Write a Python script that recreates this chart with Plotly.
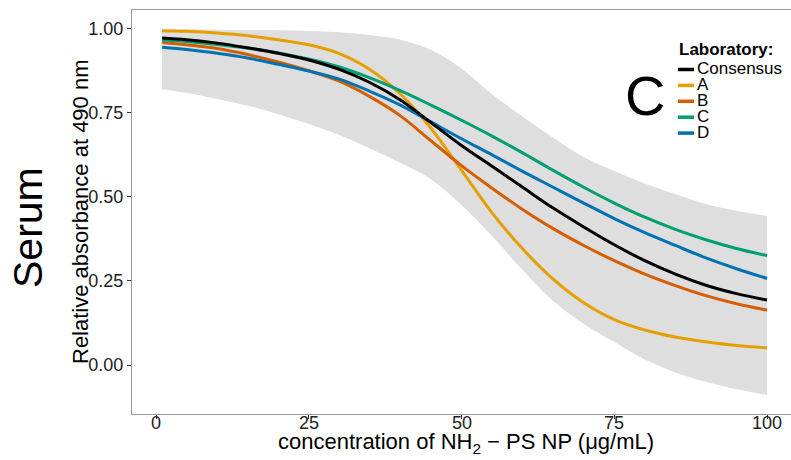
import plotly.graph_objects as go

# ---- data ----
conc = [1, 5, 10, 15, 20, 25, 30, 35, 40, 45, 50, 55, 60, 65, 70, 75, 80, 85, 90, 95, 100]
consensus = [0.971, 0.966, 0.956, 0.942, 0.926, 0.906, 0.878, 0.839, 0.787, 0.720, 0.652,
             0.590, 0.528, 0.466, 0.410, 0.357, 0.310, 0.270, 0.237, 0.212, 0.193]
lab_a = [0.993, 0.991, 0.986, 0.978, 0.966, 0.951, 0.925, 0.878, 0.805, 0.703, 0.578,
         0.452, 0.345, 0.255, 0.185, 0.135, 0.104, 0.083, 0.069, 0.058, 0.051]
lab_b = [0.958, 0.951, 0.940, 0.922, 0.900, 0.874, 0.843, 0.797, 0.740, 0.666, 0.592,
         0.525, 0.462, 0.405, 0.355, 0.310, 0.270, 0.236, 0.206, 0.182, 0.163]
lab_c = [0.965, 0.961, 0.952, 0.941, 0.927, 0.909, 0.885, 0.853, 0.815, 0.772, 0.727,
         0.680, 0.630, 0.578, 0.528, 0.481, 0.439, 0.403, 0.372, 0.346, 0.325]
lab_d = [0.944, 0.937, 0.926, 0.912, 0.893, 0.873, 0.849, 0.813, 0.772, 0.722, 0.672,
         0.624, 0.575, 0.528, 0.481, 0.435, 0.393, 0.355, 0.318, 0.286, 0.257]
band_upper = [0.997, 0.997, 0.996, 0.995, 0.994, 0.992, 0.988, 0.980, 0.966, 0.936, 0.880,
              0.804, 0.738, 0.675, 0.618, 0.576, 0.539, 0.507, 0.478, 0.458, 0.443]
band_lower = [0.819, 0.808, 0.790, 0.770, 0.745, 0.716, 0.683, 0.643, 0.600, 0.552, 0.475,
              0.383, 0.282, 0.190, 0.122, 0.068, 0.016, -0.022, -0.050, -0.072, -0.089]

x_ticks = [0, 25, 50, 75, 100]
x_tick_labels = ["0", "25", "50", "75", "100"]
y_ticks = [0.0, 0.25, 0.5, 0.75, 1.0]
y_tick_labels = ["0.00", "0.25", "0.50", "0.75", "1.00"]

series_names = ["A", "B", "C", "D"]
series_values = [lab_a, lab_b, lab_c, lab_d]
series_colors = ["#E69F00", "#D55E00", "#009E73", "#0072B2"]

FONT = "Liberation Sans, Arial, Helvetica, sans-serif"

fig = go.Figure()

# confidence band
fig.add_trace(go.Scatter(x=conc, y=band_lower, mode="lines", line=dict(width=0, shape="spline"),
                         hoverinfo="skip", showlegend=False))
fig.add_trace(go.Scatter(x=conc, y=band_upper, mode="lines", line=dict(width=0, shape="spline"),
                         fill="tonexty", fillcolor="#DEDEDE", hoverinfo="skip", showlegend=False))

for name, vals, col in zip(series_names, series_values, series_colors):
    fig.add_trace(go.Scatter(x=conc, y=vals, mode="lines", name=name,
                             line=dict(color=col, width=3, shape="spline"), showlegend=False))
fig.add_trace(go.Scatter(x=conc, y=consensus, mode="lines", name="Consensus",
                         line=dict(color="#000000", width=3, shape="spline"), showlegend=False))

# plot area geometry (pixels)
L, R, T, B = 132, 791, 10, 414
W, H = R - L, B - T

def px_x(px):
    return (px - L) / W

def px_y(py):
    return (B - py) / H

annotations = []
shapes = []

# x tick labels (placed just under the ticks)
for tv, tt in zip(x_ticks, x_tick_labels):
    annotations.append(dict(text=tt, x=tv, y=px_y(423), xref="x", yref="paper",
                            xanchor="center", yanchor="middle", showarrow=False, borderpad=0,
                            font=dict(family=FONT, size=18, color="#222222")))

# manual legend
annotations.append(dict(text="<b>Laboratory:</b>", x=px_x(677), y=px_y(50), xref="paper", yref="paper",
                        xanchor="left", yanchor="middle", showarrow=False,
                        font=dict(family=FONT, size=17, color="#000000")))
leg_names = ["Consensus"] + series_names
leg_colors = ["#000000"] + series_colors
for i, (nm, col) in enumerate(zip(leg_names, leg_colors)):
    yc = 68.5 + 15.9 * i
    shapes.append(dict(type="line", xref="paper", yref="paper",
                       x0=px_x(678), x1=px_x(694), y0=px_y(yc + 1), y1=px_y(yc + 1),
                       line=dict(color=col, width=3.5)))
    annotations.append(dict(text=nm, x=px_x(695), y=px_y(yc), xref="paper", yref="paper",
                            xanchor="left", yanchor="middle", showarrow=False,
                            font=dict(family=FONT, size=17, color="#000000")))

# big "C" panel label
annotations.append(dict(text="C", x=80, y=0.8, xref="x", yref="y", showarrow=False,
                        xanchor="center", yanchor="middle",
                        font=dict(family=FONT, size=56, color="#000000")))

# axis titles
annotations.append(dict(text="concentration of NH<sub>2</sub> \u2212 PS NP (\u03bcg/mL)",
                        x=px_x(466), y=px_y(443), xref="paper", yref="paper",
                        xanchor="center", yanchor="middle", showarrow=False, borderpad=0,
                        font=dict(family=FONT, size=22, color="#000000")))
annotations.append(dict(text="Relative absorbance at 490 nm", x=px_x(80), y=px_y(212),
                        xref="paper", yref="paper", xanchor="center", yanchor="middle",
                        textangle=-90, showarrow=False,
                        font=dict(family=FONT, size=22, color="#000000")))
annotations.append(dict(text="Serum", x=px_x(28), y=px_y(228), xref="paper", yref="paper",
                        xanchor="center", yanchor="middle", textangle=-90, showarrow=False,
                        font=dict(family=FONT, size=41, color="#000000")))

fig.update_layout(
    width=791, height=460,
    margin=dict(l=L, r=791 - R, t=T, b=460 - B, pad=0),
    paper_bgcolor="white", plot_bgcolor="white",
    showlegend=False,
    annotations=annotations, shapes=shapes,
    font=dict(family=FONT, color="#222222"),
)
fig.update_xaxes(range=[-3.93, -3.93 + W / 6.11], tickvals=x_ticks, showticklabels=False,
                 showgrid=False, zeroline=False, showline=True, mirror=True,
                 linecolor="#9A9A9A", linewidth=1.2, ticks="outside", ticklen=4,
                 tickcolor="#333333")
fig.update_yaxes(range=[-0.1455, 1.0544], tickvals=y_ticks, ticktext=y_tick_labels,
                 showgrid=False, zeroline=False, showline=True, mirror=False,
                 linecolor="#9A9A9A", linewidth=1.2, ticks="outside", ticklen=4,
                 tickcolor="#333333", tickfont=dict(family=FONT, size=18, color="#222222"))

fig.write_html("out.html")
